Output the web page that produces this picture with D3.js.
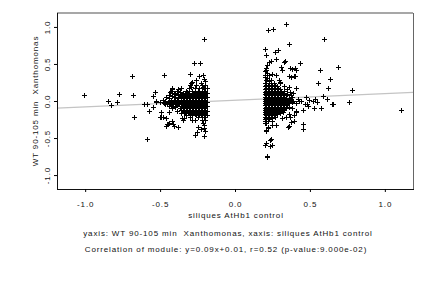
<!DOCTYPE html>
<html><head><meta charset="utf-8">
<script src="https://cdn.jsdelivr.net/npm/d3@7"></script>
<style>
html,body{margin:0;padding:0;background:#fff;}
text{font-family:"Liberation Sans",Arial,sans-serif;font-size:8px;letter-spacing:0.85px;white-space:pre;fill:#111;}
</style>
</head><body><svg id="c" width="432" height="288"></svg>
<script>
// ---------- data ----------
const xLimits = [-1.1, 1.1];
const yLimits = [-1.1, 1.1];
const xTicks = [-1, -0.5, 0, 0.5, 1];
const yTicks = [-1, -0.5, 0, 0.5, 1];
const xTickLabels = ["-1.0", "-0.5", "0.0", "0.5", "1.0"];
const yTickLabels = ["-1.0", "-0.5", "0.0", "0.5", "1.0"];
const xTitle = "siliques AtHb1 control";
const yTitle = "WT 90-105 min  Xanthomonas";
const caption1 = "yaxis: WT 90-105 min  Xanthomonas, xaxis: siliques AtHb1 control";
const caption2 = "Correlation of module: y=0.09x+0.01, r=0.52 (p-value:9.000e-02)";
const fitSlope = 0.09;
const fitIntercept = 0.01;

// scattered points, left group
const leftSparse = [
[-1.005,0.085],[-0.845,0.00],[-0.825,-0.05],[-0.787,-0.018],[-0.771,0.095],[-0.685,0.338],[-0.68,0.085],
[-0.673,-0.216],[-0.609,-0.036],[-0.589,-0.036],[-0.585,-0.514],[-0.571,-0.135],[-0.547,-0.081],[-0.545,0.068],
[-0.533,0.126],[-0.527,-0.02],[-0.495,-0.145],[-0.493,-0.212],[-0.471,0.355],[-0.471,-0.023],[-0.451,-0.031],
[-0.433,0.126],[-0.42,0.172],[-0.407,0.058],[-0.378,0.158],[-0.44,-0.153],[-0.46,-0.225],[-0.451,-0.311],
[-0.438,-0.301],[-0.411,-0.311],[-0.378,-0.347],[-0.422,-0.27],[-0.333,-0.145],[-0.345,-0.257],[-0.298,0.365],
[-0.213,0.351],[-0.271,0.509],[-0.233,0.509],[-0.205,0.834],[-0.295,0.239],[-0.287,0.261],[-0.225,0.239],
[-0.289,-0.257],[-0.255,-0.415],[-0.245,-0.355],[-0.267,-0.459],[-0.207,-0.473],[-0.215,-0.293],[-0.207,-0.324],
[-0.529,0.0],[-0.418,0.166],[-0.427,0.131],[-0.5,-0.22],[-0.478,-0.212],[-0.355,-0.225],[-0.338,-0.234],
[-0.407,-0.334],[-0.445,-0.315],[-0.46,-0.334],[-0.21,0.30],[-0.20,0.27],[-0.21,-0.36],[-0.20,-0.40],
[-0.24,0.338],[-0.26,0.28],[-0.295,0.193],[-0.215,0.193],[-0.23,-0.38]
];
// dense left group, rows: [y, [x values]]
const leftClusterRows = [
[0.22, [-0.30,-0.26,-0.22,-0.20]],
[0.18, [-0.36,-0.31,-0.27,-0.24,-0.21,-0.19]],
[0.14, [-0.39,-0.33,-0.29,-0.25,-0.22,-0.20]],
[0.125, [-0.37,-0.32,-0.27,-0.24,-0.21]],
[0.11, [-0.41,-0.35,-0.31,-0.28,-0.26,-0.23,-0.21,-0.19]],
[0.095, [-0.40,-0.36,-0.32,-0.29,-0.26,-0.23,-0.21]],
[0.08, [-0.44,-0.38,-0.34,-0.30,-0.27,-0.25,-0.22,-0.20]],
[0.065, [-0.42,-0.37,-0.34,-0.31,-0.28,-0.26,-0.24,-0.21]],
[0.05, [-0.46,-0.40,-0.36,-0.33,-0.30,-0.28,-0.25,-0.23,-0.21,-0.19]],
[0.035, [-0.44,-0.38,-0.34,-0.31,-0.28,-0.26,-0.23,-0.21]],
[0.02, [-0.48,-0.43,-0.39,-0.35,-0.32,-0.29,-0.27,-0.24,-0.22,-0.20]],
[0.005, [-0.47,-0.43,-0.39,-0.36,-0.33,-0.30,-0.27,-0.25,-0.22,-0.20]],
[-0.01, [-0.50,-0.45,-0.41,-0.37,-0.34,-0.31,-0.28,-0.26,-0.23,-0.21,-0.19]],
[-0.025, [-0.44,-0.40,-0.36,-0.33,-0.31,-0.28,-0.26,-0.23,-0.21]],
[-0.04, [-0.47,-0.42,-0.38,-0.35,-0.32,-0.30,-0.27,-0.25,-0.22,-0.20]],
[-0.055, [-0.43,-0.39,-0.35,-0.32,-0.29,-0.27,-0.25,-0.22,-0.20]],
[-0.07, [-0.44,-0.40,-0.36,-0.33,-0.31,-0.28,-0.26,-0.24,-0.21,-0.19]],
[-0.085, [-0.40,-0.35,-0.32,-0.30,-0.28,-0.25,-0.23,-0.21]],
[-0.10, [-0.42,-0.37,-0.34,-0.31,-0.29,-0.27,-0.24,-0.22,-0.20]],
[-0.115, [-0.36,-0.33,-0.30,-0.27,-0.25,-0.22,-0.20]],
[-0.13, [-0.39,-0.35,-0.32,-0.29,-0.26,-0.23,-0.21,-0.19]],
[-0.145, [-0.34,-0.30,-0.27,-0.24,-0.21]],
[-0.16, [-0.36,-0.31,-0.28,-0.25,-0.22,-0.20]],
[-0.175, [-0.30,-0.27,-0.24,-0.22,-0.20]],
[-0.19, [-0.33,-0.29,-0.26,-0.23,-0.21,-0.19]],
[-0.22, [-0.30,-0.25,-0.21]],
[-0.25, [-0.27,-0.22,-0.20]]
];
// scattered points, right group
const rightSparse = [
[0.342,1.04],[0.222,0.96],[0.255,0.973],[0.593,0.834],[0.358,0.77],[0.202,0.703],[0.265,0.666],[0.289,0.685],
[0.275,0.568],[0.229,0.531],[0.24,0.545],[0.327,0.531],[0.335,0.545],[0.435,0.514],[0.685,0.459],[0.569,0.419],
[0.213,0.486],[0.309,0.464],[0.311,0.419],[0.365,0.442],[0.38,0.428],[0.398,0.442],[0.407,0.419],[0.202,0.351],
[0.213,0.374],[0.229,0.351],[0.247,0.365],[0.273,0.351],[0.358,0.338],[0.375,0.32],[0.391,0.334],[0.402,0.342],
[0.635,0.297],[0.205,0.284],[0.229,0.27],[0.24,0.284],[0.291,0.284],[0.302,0.261],[0.551,0.247],[0.407,0.172],
[0.358,0.185],[0.622,0.172],[0.78,0.149],[0.389,0.104],[0.375,0.081],[0.473,0.058],[0.585,0.068],[0.613,0.031],
[0.762,-0.009],[0.425,0.004],[0.44,0.004],[0.495,0.014],[0.518,0.004],[0.535,0.023],[0.545,-0.014],[0.465,-0.045],
[0.478,-0.041],[0.487,-0.068],[0.525,-0.09],[0.573,-0.09],[0.645,-0.041],[0.655,-0.041],[1.107,-0.122],[0.455,-0.122],
[0.407,-0.131],[0.395,-0.189],[0.36,-0.18],[0.369,-0.22],[0.338,-0.212],[0.311,-0.234],[0.371,-0.288],[0.391,-0.266],
[0.358,-0.338],[0.451,-0.315],[0.451,-0.382],[0.273,-0.324],[0.245,-0.328],[0.218,-0.369],[0.207,-0.401],[0.235,-0.527],
[0.207,-0.572],[0.238,-0.518],[0.2,-0.595],[0.231,-0.604],[0.249,-0.595],[0.215,-0.743],[0.215,-0.761],[0.355,-0.347],
[0.405,-0.153],[0.205,0.62],[0.21,0.45],[0.205,0.42],[0.20,0.40],[0.215,0.31],[0.20,0.33],[0.222,-0.347],[0.207,-0.392]
];
// dense right group, rows: [y, [x values]]
const rightClusterRows = [
[0.24, [0.20,0.23,0.26,0.30]],
[0.215, [0.21,0.24,0.27]],
[0.20, [0.20,0.22,0.25,0.28,0.33]],
[0.175, [0.21,0.23,0.26,0.29]],
[0.16, [0.20,0.22,0.24,0.27,0.30,0.35]],
[0.135, [0.21,0.22,0.25,0.27,0.30,0.33]],
[0.12, [0.20,0.21,0.23,0.26,0.28,0.31,0.37]],
[0.105, [0.21,0.23,0.25,0.27,0.30,0.33]],
[0.09, [0.20,0.22,0.24,0.26,0.29,0.32,0.35]],
[0.075, [0.21,0.22,0.24,0.26,0.28,0.31,0.34]],
[0.06, [0.20,0.21,0.23,0.25,0.27,0.30,0.33,0.38]],
[0.045, [0.21,0.23,0.25,0.27,0.29,0.32,0.36]],
[0.03, [0.20,0.22,0.24,0.26,0.28,0.31,0.34,0.37,0.42]],
[0.015, [0.21,0.22,0.24,0.26,0.28,0.30,0.33,0.37]],
[0.00, [0.20,0.21,0.23,0.25,0.27,0.29,0.32,0.35,0.39]],
[-0.015, [0.21,0.22,0.24,0.27,0.29,0.31,0.34,0.38]],
[-0.03, [0.20,0.22,0.24,0.26,0.28,0.30,0.33,0.36,0.41]],
[-0.045, [0.21,0.23,0.25,0.27,0.29,0.31,0.34]],
[-0.06, [0.20,0.21,0.23,0.25,0.27,0.30,0.32,0.35]],
[-0.075, [0.21,0.22,0.24,0.26,0.29,0.33,0.36]],
[-0.09, [0.20,0.22,0.24,0.26,0.28,0.31,0.34,0.38]],
[-0.105, [0.21,0.23,0.25,0.27,0.29,0.32]],
[-0.12, [0.20,0.21,0.23,0.25,0.28,0.30,0.33]],
[-0.135, [0.21,0.22,0.24,0.26,0.28,0.31]],
[-0.15, [0.20,0.22,0.24,0.27,0.29,0.32]],
[-0.165, [0.21,0.23,0.25,0.27,0.30]],
[-0.18, [0.20,0.21,0.23,0.26,0.28]],
[-0.195, [0.21,0.22,0.25,0.27]],
[-0.21, [0.20,0.22,0.24,0.27]],
[-0.225, [0.21,0.23,0.25]],
[-0.24, [0.20,0.21,0.23]],
[-0.27, [0.20,0.22,0.25]],
[-0.30, [0.20,0.21]]
];

// ---------- drawing ----------
const plot = {left:57, right:413, top:13, bottom:189};
const ext = l => [l[0] - 0.04*(l[1]-l[0]), l[1] + 0.04*(l[1]-l[0])];
const x = d3.scaleLinear().domain(ext(xLimits)).range([plot.left, plot.right]);
const y = d3.scaleLinear().domain(ext(yLimits)).range([plot.bottom, plot.top]);

const rowsToPoints = rows => rows.flatMap(([yy, xs]) => xs.map(xx => [xx, yy]));
const points = [].concat(leftSparse, rowsToPoints(leftClusterRows), rightSparse, rowsToPoints(rightClusterRows));

const svg = d3.select("#c");

// regression line
const xd = x.domain();
svg.append("line")
  .attr("x1", x(xd[0])).attr("y1", y(fitSlope*xd[0]+fitIntercept))
  .attr("x2", x(xd[1])).attr("y2", y(fitSlope*xd[1]+fitIntercept))
  .attr("stroke", "#c4c4c4").attr("stroke-width", 1.2);

// points
svg.append("g").selectAll("path").data(points).join("path")
  .attr("d", "M-2.5,0H2.5M0,-2.5V2.5")
  .attr("transform", d => `translate(${Math.round(x(d[0]))+0.5},${Math.round(y(d[1]))+0.5})`)
  .attr("stroke", "#000").attr("stroke-width", 1).attr("fill", "none");

// frame
const f = svg.append("g").attr("fill","none");
f.append("line").attr("x1",plot.left).attr("x2",plot.right).attr("y1",plot.top).attr("y2",plot.top).attr("stroke","#8a8a8a").attr("stroke-width",1.4);
f.append("line").attr("x1",plot.right+0.5).attr("x2",plot.right+0.5).attr("y1",plot.top).attr("y2",plot.bottom).attr("stroke","#666").attr("stroke-width",1);
f.append("line").attr("x1",plot.left+0.5).attr("x2",plot.left+0.5).attr("y1",plot.top).attr("y2",plot.bottom+0.5).attr("stroke","#111").attr("stroke-width",1);
f.append("line").attr("x1",plot.left).attr("x2",plot.right+1).attr("y1",plot.bottom+0.5).attr("y2",plot.bottom+0.5).attr("stroke","#111").attr("stroke-width",1);

// x axis
const gx = svg.append("g").attr("transform", `translate(0,${plot.bottom})`)
  .call(d3.axisBottom(x).tickValues(xTicks).tickSize(3).tickFormat((d,i) => xTickLabels[i]));
gx.select(".domain").remove();
gx.selectAll(".tick line").attr("stroke", "#000");
gx.selectAll(".tick text").attr("y", 17.5).attr("dy", 0);

// y axis
const gy = svg.append("g").attr("transform", `translate(${plot.left},0)`)
  .call(d3.axisLeft(y).tickValues(yTicks).tickSize(3).tickFormat((d,i) => yTickLabels[i]));
gy.select(".domain").remove();
gy.selectAll(".tick line").attr("stroke", "#000");
gy.selectAll(".tick text").attr("transform", "rotate(-90)").attr("text-anchor", "middle")
  .attr("x", 0).attr("y", -7).attr("dy", 0);

// titles
svg.append("text").attr("x", 236).attr("y", 218).attr("text-anchor", "middle").text(xTitle);
svg.append("text").attr("transform", "translate(37.5,101) rotate(-90)").attr("text-anchor", "middle").text(yTitle);
svg.append("text").attr("x", 228).attr("y", 235.5).attr("text-anchor", "middle").text(caption1);
svg.append("text").attr("x", 226).attr("y", 252).attr("text-anchor", "middle").text(caption2);
</script>
</body></html>
